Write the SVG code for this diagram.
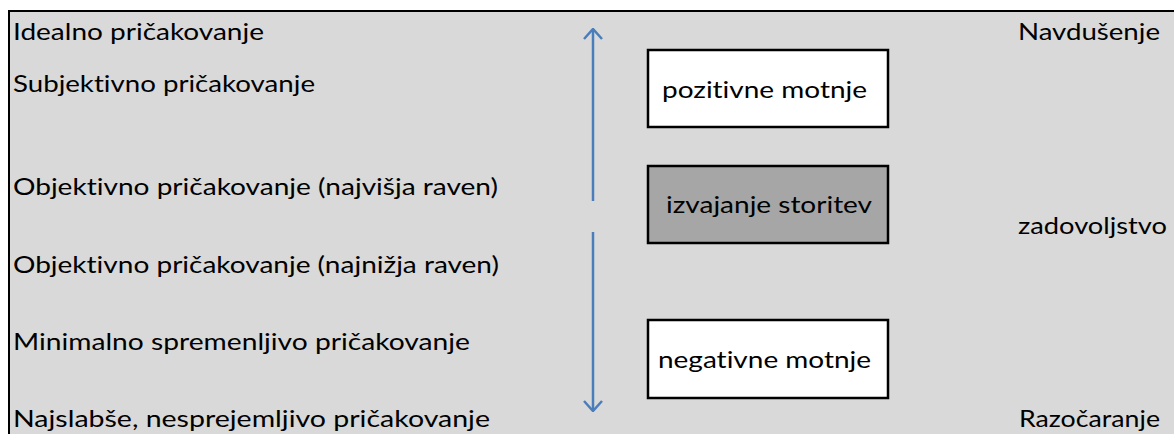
<svg xmlns="http://www.w3.org/2000/svg" width="1174" height="434" viewBox="0 0 1174 434">
<defs>
<style>
.t{font-family:Lato,"Open Sans","Liberation Sans",sans-serif;font-size:23px;fill:#000;font-variant-ligatures:none;font-feature-settings:"liga" 0}
.box{stroke:#000;stroke-width:2.5}
.ar{stroke:#4a7ebb;stroke-width:2.5;fill:none}
</style>
<marker id="head" markerWidth="12" markerHeight="20" viewBox="-11 -10 12 20" refX="0" refY="0" orient="auto" markerUnits="userSpaceOnUse">
<path d="M-10,-9 L0,0 L-10,9" fill="none" stroke="#4a7ebb" stroke-width="2.5"/>
</marker>
</defs>
<rect x="0" y="0" width="1174" height="434" fill="#fff"/>
<rect x="9" y="11" width="1175" height="435" fill="#d9d9d9" stroke="#000" stroke-width="2"/>
<g id="labels-left">
<text class="t" x="13" y="40" textLength="251" lengthAdjust="spacingAndGlyphs">Idealno pričakovanje</text>
<text class="t" x="13" y="92" textLength="302" lengthAdjust="spacingAndGlyphs">Subjektivno pričakovanje</text>
<text class="t" x="13" y="195" textLength="485" lengthAdjust="spacingAndGlyphs">Objektivno pričakovanje (najvišja raven)</text>
<text class="t" x="13" y="273" textLength="486" lengthAdjust="spacingAndGlyphs">Objektivno pričakovanje (najnižja raven)</text>
<text class="t" x="13" y="350" textLength="457" lengthAdjust="spacingAndGlyphs">Minimalno spremenljivo pričakovanje</text>
<text class="t" x="13" y="427" textLength="477" lengthAdjust="spacingAndGlyphs">Najslabše, nesprejemljivo pričakovanje</text>
</g>
<g id="labels-right">
<text class="t" x="1018" y="40" textLength="142" lengthAdjust="spacingAndGlyphs">Navdušenje</text>
<text class="t" x="1018" y="234" textLength="149" lengthAdjust="spacingAndGlyphs">zadovoljstvo</text>
<text class="t" x="1019" y="427" textLength="141" lengthAdjust="spacingAndGlyphs">Razočaranje</text>
</g>
<g id="node-pozitivne">
<rect class="box" x="648" y="50" width="240" height="77" fill="#fff"/>
<text class="t" x="662" y="98" textLength="205" lengthAdjust="spacingAndGlyphs">pozitivne motnje</text>
</g>
<g id="node-izvajanje">
<rect class="box" x="648" y="166" width="240" height="77" fill="#a6a6a6"/>
<text class="t" x="666" y="213" textLength="206" lengthAdjust="spacingAndGlyphs">izvajanje storitev</text>
</g>
<g id="node-negativne">
<rect class="box" x="648" y="320" width="240" height="78" fill="#fff"/>
<text class="t" x="658" y="368" textLength="213" lengthAdjust="spacingAndGlyphs">negativne motnje</text>
</g>
<g id="connectors">
<line class="ar" x1="593" y1="201" x2="593" y2="29" marker-end="url(#head)"/>
<line class="ar" x1="593" y1="232" x2="593" y2="411" marker-end="url(#head)"/>
</g>
</svg>
